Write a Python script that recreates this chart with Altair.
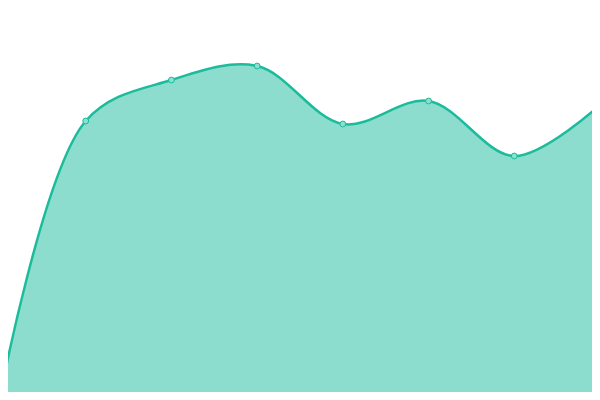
import altair as alt
import pandas as pd

idx = [0, 1, 2, 3, 4, 5, 6, 7]
values = [3, 279, 320, 334, 276, 299, 244, 295]

df = pd.DataFrame({"i": idx, "v": values})

x = alt.X("i:Q", axis=None, scale=alt.Scale(domain=[0.09333, 6.9067], nice=False, zero=False))
y = alt.Y("v:Q", axis=None, scale=alt.Scale(domain=[8, 392], nice=False, zero=False))

base = alt.Chart(df).encode(x=x, y=y)

area = base.mark_area(interpolate="catmull-rom", color="#1abc9c", opacity=0.5, clip=False)
line = base.mark_line(interpolate="catmull-rom", color="#1abc9c", strokeWidth=2.5, clip=False)
pts = base.mark_point(filled=True, shape="circle", size=34, fill="#8ce0d0",
                      stroke="#1abc9c", strokeWidth=1, opacity=1, clip=False)

chart = alt.layer(area, line, pts).properties(
    width=584, height=384, padding=0,
    autosize=alt.AutoSizeParams(type="none")
).configure_view(stroke=None)

chart.save("out.html", embed_options={"renderer": "svg", "actions": False})
